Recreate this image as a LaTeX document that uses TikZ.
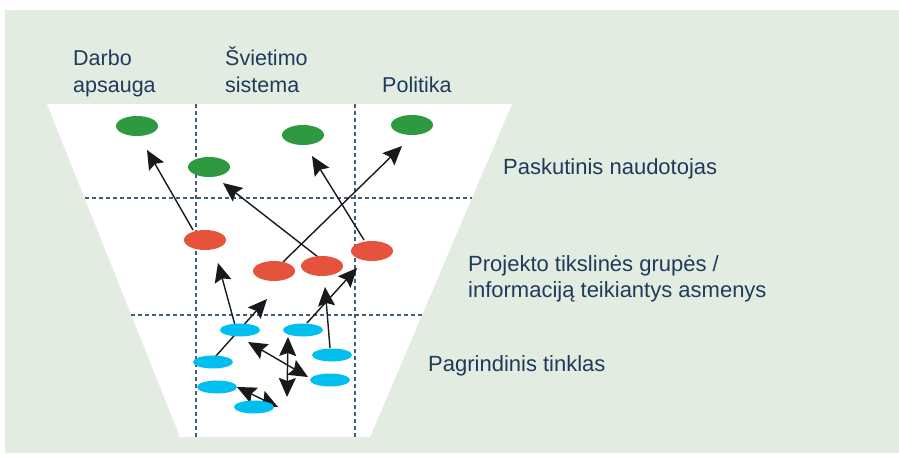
\documentclass[tikz,border=0pt]{standalone}
\usepackage{fontspec}
\setmainfont{Liberation Sans}
\usetikzlibrary{arrows.meta,shapes.geometric}
\definecolor{bggreen}{HTML}{E2ECE1}
\definecolor{ellgreen}{HTML}{2E9940}
\definecolor{ellred}{HTML}{E5533D}
\definecolor{ellblue}{HTML}{00BFEF}
\definecolor{txtblue}{HTML}{1F3B5A}
\definecolor{dashblue}{HTML}{3D5F80}
\tikzset{
  gell/.style={ellipse,fill=ellgreen,minimum width=42pt,minimum height=20pt,inner sep=0pt},
  rell/.style={ellipse,fill=ellred,minimum width=42pt,minimum height=20pt,inner sep=0pt},
  bell/.style={ellipse,fill=ellblue,minimum width=40pt,minimum height=13pt,inner sep=0pt},
  grid/.style={draw=dashblue,line width=1.3pt,dash pattern=on 4pt off 3pt},
  arr/.style={draw=black!90,line width=1.4pt,-{Stealth[length=19pt,width=17pt,inset=3pt]}},
  darr/.style={draw=black!90,line width=1.4pt,{Stealth[length=19pt,width=17pt,inset=3pt]}-{Stealth[length=19pt,width=17pt,inset=3pt]}},
  toplbl/.style={anchor=base west,align=left,inner sep=0pt,text=txtblue,font=\fontsize{21.5}{27}\selectfont},
  sidelbl/.style={anchor=base west,align=left,inner sep=0pt,text=txtblue,font=\fontsize{22}{26}\selectfont}
}
\begin{document}
\begin{tikzpicture}[x=1pt,y=-1pt]
\useasboundingbox (0,0) rectangle (899,453);
\fill[white] (0,0) rectangle (899,453);
\fill[bggreen] (5,10) rectangle (899,453);
\fill[white] (47,104) -- (512,104) -- (370,437) -- (180,437) -- cycle;
% grid
\draw[grid] (196,104) -- (196,437);
\draw[grid] (355,104) -- (355,437);
\draw[grid] (85,198) -- (472,198);
\draw[grid] (131,315) -- (422,315);
% labels
\node[toplbl] (l1) at (73,92) {Darbo\\apsauga};
\node[toplbl] (l2) at (225,92) {Švietimo\\sistema};
\node[toplbl] (l3) at (382,92) {Politika};
\node[sidelbl] (l4) at (503,174) {Paskutinis naudotojas};
\node[sidelbl] (l5) at (468,297) {Projekto tikslinės grupės /\\informaciją teikiantys asmenys};
\node[sidelbl] (l6) at (428,371) {Pagrindinis tinklas};
% arrow end points
\coordinate (a1s) at (193,230); \coordinate (a1e) at (147,150);
\coordinate (a2s) at (318,257); \coordinate (a2e) at (223,183);
\coordinate (a3s) at (283,262); \coordinate (a3e) at (402,146);
\coordinate (a4s) at (364,240); \coordinate (a4e) at (312,156);
\coordinate (a5s) at (235,325); \coordinate (a5e) at (218,263);
\coordinate (a6s) at (215,357); \coordinate (a6e) at (267,299);
\coordinate (a7s) at (307,323); \coordinate (a7e) at (357,268);
\coordinate (a8s) at (330,348); \coordinate (a8e) at (325,287);
\coordinate (d1a) at (248,342); \coordinate (d1b) at (308,377);
\coordinate (d2a) at (288,337); \coordinate (d2b) at (287,397);
\coordinate (d3a) at (237,387); \coordinate (d3b) at (278,407);
\draw[arr] (a1s) -- (a1e);
\draw[arr] (a2s) -- (a2e);
\draw[arr] (a3s) -- (a3e);
\draw[arr] (a4s) -- (a4e);
\draw[arr] (a5s) -- (a5e);
\draw[arr] (a6s) -- (a6e);
\draw[arr] (a7s) -- (a7e);
\draw[arr] (a8s) -- (a8e);
\draw[darr] (d1a) -- (d1b);
\draw[darr] (d2a) -- (d2b);
\draw[darr] (d3a) -- (d3b);
% ellipses
\node[gell] (g1) at (137,126) {};
\node[gell] (g2) at (303,135) {};
\node[gell] (g3) at (412,125) {};
\node[gell] (g4) at (209,167) {};
\node[rell] (r1) at (205,240) {};
\node[rell] (r2) at (274,271) {};
\node[rell] (r3) at (322,266) {};
\node[rell] (r4) at (372,251) {};
\node[bell] (b1) at (240,330) {};
\node[bell] (b2) at (303,330) {};
\node[bell] (b3) at (213,362) {};
\node[bell] (b4) at (332,355) {};
\node[bell] (b5) at (217,387) {};
\node[bell] (b6) at (330,380) {};
\node[bell] (b7) at (254,407) {};
\end{tikzpicture}
\end{document}
